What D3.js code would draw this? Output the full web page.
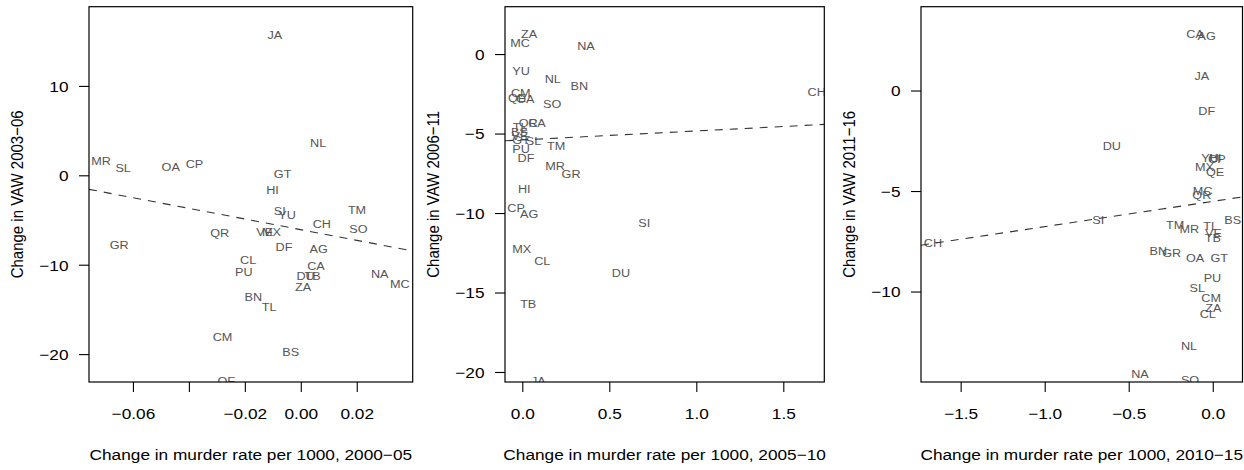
<!DOCTYPE html>
<html><head><meta charset="utf-8">
<script src="https://cdn.jsdelivr.net/npm/d3@7"></script>
<style>
body{margin:0;background:#fff}
text{font-family:"Liberation Sans",Arial,Helvetica,sans-serif}
</style></head><body><svg id="c" width="1244" height="470"></svg>
<script>
const states=["AG","BN","BS","CA","CH","CL","CM","CP","DF","DU","GR","GT","HI","JA","MC","MR","MX","NA","NL","OA","PU","QE","QR","SI","SL","SO","TB","TL","TM","VE","YU","ZA"];

// Panel 1: murder 2000-05 vs VAW 2003-06
const murder1=[0.0064,-0.017,-0.0036,0.0054,0.0075,-0.0188,-0.028,-0.038,-0.006,0.0017,-0.0649,-0.0065,-0.0101,-0.0093,0.0354,-0.0714,-0.0105,0.0282,0.0062,-0.0465,-0.0204,-0.0265,-0.029,-0.0075,-0.0635,0.0206,0.0042,-0.0113,0.0201,-0.0129,-0.0049,0.0008];
const vaw1=[-8.28,-13.65,-19.73,-10.15,-5.45,-9.51,-18.12,1.23,-7.99,-11.26,-7.8,0.15,-1.64,15.7,-12.19,1.63,-6.3,-11.04,3.65,0.89,-10.85,-23.0,-6.49,-3.99,0.85,-6.04,-11.26,-14.77,-3.88,-6.3,-4.44,-12.53];
// Panel 2: murder 2005-10 vs VAW 2006-11
const murder2=[0.039,0.328,-0.017,0.084,1.692,0.115,-0.009,-0.036,0.021,0.567,0.28,-0.007,0.011,0.092,-0.013,0.188,-0.0034,0.366,0.175,0.018,-0.007,-0.030,0.034,0.701,0.064,0.172,0.034,-0.013,0.194,-0.013,-0.0075,0.039];
const vaw2=[-10.04,-1.98,-4.92,-4.31,-2.39,-13.02,-2.47,-9.7,-6.55,-13.75,-7.54,-5.40,-8.5,-20.57,0.69,-7.02,-12.28,0.52,-1.56,-2.81,-5.96,-2.75,-4.31,-10.64,-5.49,-3.15,-15.74,-4.56,-5.76,-5.14,-1.05,1.26];
// Panel 3: murder 2010-15 vs VAW 2011-16
const murder3=[-0.036,-0.324,0.119,-0.105,-1.665,-0.03,-0.01,0.024,-0.036,-0.601,-0.244,0.039,0.014,-0.065,-0.06,-0.139,-0.05,-0.433,-0.141,-0.105,-0.002,0.014,-0.065,-0.681,-0.092,-0.135,0,-0.012,-0.224,0.004,-0.016,0.004];
const vaw3=[2.73,-7.97,-6.44,2.8,-7.6,-11.13,-10.34,-3.41,-1.0,-2.76,-8.07,-8.35,-3.37,0.72,-4.99,-6.91,-3.79,-14.1,-12.71,-8.35,-9.34,-4.04,-5.2,-6.44,-9.84,-14.4,-7.32,-6.74,-6.69,-7.1,-3.37,-10.84];

// regression lines [intercept, slope]
const fit1=[-6.08,-59.6];
const fit2=[-5.40,0.562];
const fit3=[-5.515,1.256];

const xTicks1=[-0.06,-0.04,-0.02,0,0.02], xLabels1=["\u22120.06","","\u22120.02","0.00","0.02"];
const yTicks1=[-20,-10,0,10], yLabels1=["\u221220","\u221210","0","10"];
const xTicks2=[0,0.5,1,1.5], xLabels2=["0.0","0.5","1.0","1.5"];
const yTicks2=[-20,-15,-10,-5,0], yLabels2=["\u221220","\u221215","\u221210","\u22125","0"];
const xTicks3=[-1.5,-1,-0.5,0], xLabels3=["\u22121.5","\u22121.0","\u22120.5","0.0"];
const yTicks3=[-10,-5,0], yLabels3=["\u221210","\u22125","0"];

const xTitles=["Change in murder rate per 1000, 2000\u221205","Change in murder rate per 1000, 2005\u221210","Change in murder rate per 1000, 2010\u221215"];
const yTitles=["Change in VAW 2003\u221206","Change in VAW 2006\u221211","Change in VAW 2011\u221216"];

const SX=1.15, FS=15, LFS=11;
const plotTop=6.7, plotBottom=382;
const svg=d3.select("#c");
const panels=[
 {left:89,right:412.7,xd:[-0.0757,0.0400],yd:[-23.12,18.86],xv:murder1,yv:vaw1,xt:xTicks1,xl:xLabels1,yt:yTicks1,yl:yLabels1,fit:fit1},
 {left:505,right:824.3,xd:[-0.0994,1.7356],yd:[-20.63,2.98],xv:murder2,yv:vaw2,xt:xTicks2,xl:xLabels2,yt:yTicks2,yl:yLabels2,fit:fit2},
 {left:921,right:1242.5,xd:[-1.736,0.177],yd:[-14.50,4.17],xv:murder3,yv:vaw3,xt:xTicks3,xl:xLabels3,yt:yTicks3,yl:yLabels3,fit:fit3}
];
panels.forEach((p,i)=>{
  const x=d3.scaleLinear().domain(p.xd).range([p.left,p.right]);
  const y=d3.scaleLinear().domain(p.yd).range([plotBottom,plotTop]);
  const g=svg.append("g");
  const cid="clip"+i;
  svg.append("clipPath").attr("id",cid).append("rect")
    .attr("x",p.left).attr("y",plotTop).attr("width",p.right-p.left).attr("height",plotBottom-plotTop);
  const pg=g.append("g").attr("clip-path",`url(#${cid})`);
  pg.selectAll("text").data(states).join("text")
    .attr("transform",(d,j)=>`translate(${x(p.xv[j])},${y(p.yv[j])}) scale(${SX},1)`)
    .attr("text-anchor","middle").attr("dy","0.36em")
    .attr("font-size",LFS).attr("fill","#555").text(d=>d);
  pg.append("line")
    .attr("x1",x(p.xd[0])).attr("x2",x(p.xd[1]))
    .attr("y1",y(p.fit[0]+p.fit[1]*p.xd[0])).attr("y2",y(p.fit[0]+p.fit[1]*p.xd[1]))
    .attr("stroke","#333").attr("stroke-width",1.1).attr("stroke-dasharray","8,7");
  g.append("rect").attr("x",p.left).attr("y",plotTop).attr("width",p.right-p.left).attr("height",plotBottom-plotTop)
    .attr("fill","none").attr("stroke","#000").attr("stroke-width",1.2);
  const xa=g.append("g").attr("transform",`translate(0,${plotBottom})`)
    .call(d3.axisBottom(x).tickValues(p.xt).tickFormat((d,j)=>p.xl[j]).tickSize(10).tickSizeOuter(0));
  xa.select(".domain").remove();
  xa.selectAll(".tick line").attr("stroke","#000").attr("stroke-width",1.1);
  xa.selectAll(".tick text").attr("y",0).attr("dy",0)
    .attr("transform",`translate(0,37.3) scale(${SX},1)`)
    .attr("font-size",FS).attr("fill","#000");
  xa.attr("font-family",null).attr("font-size",null);
  const ya=g.append("g").attr("transform",`translate(${p.left},0)`)
    .call(d3.axisLeft(y).tickValues(p.yt).tickFormat((d,j)=>p.yl[j]).tickSize(10).tickSizeOuter(0));
  ya.select(".domain").remove();
  ya.selectAll(".tick line").attr("stroke","#000").attr("stroke-width",1.1);
  ya.selectAll(".tick text").attr("x",0).attr("dy","0.36em")
    .attr("transform",`translate(-20.5,0) scale(${SX},1)`)
    .attr("font-size",FS).attr("fill","#000");
  ya.attr("font-family",null).attr("font-size",null);
  svg.append("text").attr("transform",`translate(${(p.left+p.right)/2},460) scale(${SX},1)`)
    .attr("text-anchor","middle").attr("font-size",FS).attr("fill","#000").text(xTitles[i]);
  svg.append("text").attr("transform",`translate(${p.left-66.5},${(plotTop+plotBottom)/2}) scale(${SX},1) rotate(-90)`)
    .attr("text-anchor","middle").attr("font-size",FS).attr("fill","#000").text(yTitles[i]);
});
</script></body></html>
